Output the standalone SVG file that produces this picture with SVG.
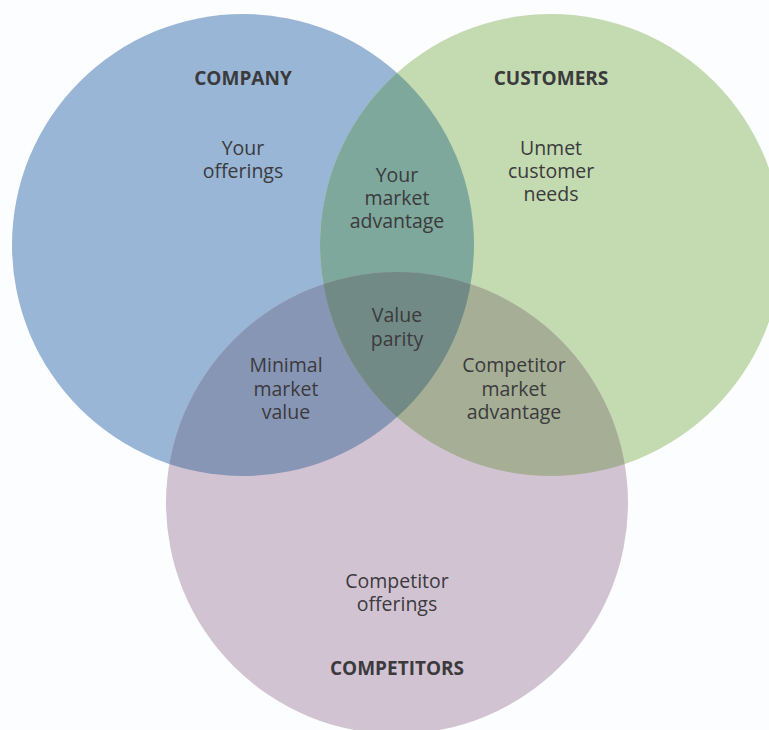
<svg xmlns="http://www.w3.org/2000/svg" width="769" height="730" viewBox="0 0 769 730">
<style>
.t{font-family:"Open Sans","Noto Sans","DejaVu Sans",sans-serif;font-size:19.5px;fill:#3b3a3d;text-anchor:middle}
.b{font-weight:bold;font-size:19px}
</style>
<defs>
<clipPath id="cA"><circle cx="243" cy="245" r="231"/></clipPath>
<clipPath id="cB"><circle cx="551" cy="245" r="231"/></clipPath>
<clipPath id="cC"><circle cx="397" cy="503" r="231"/></clipPath>
</defs>
<rect width="769" height="730" fill="#fcfdfe"/>
<g id="company"><circle cx="243" cy="245" r="231" fill="#99b6d6"/></g>
<g id="customers"><circle cx="551" cy="245" r="231" fill="#c4dab1"/></g>
<g id="competitors"><circle cx="397" cy="503" r="231" fill="#d2c3d2"/></g>
<g id="overlaps">
<g clip-path="url(#cA)"><circle cx="551" cy="245" r="231" fill="#7ea89b"/></g>
<g clip-path="url(#cA)"><circle cx="397" cy="503" r="231" fill="#8896b5"/></g>
<g clip-path="url(#cB)"><circle cx="397" cy="503" r="231" fill="#a6af96"/></g>
<g clip-path="url(#cA)"><g clip-path="url(#cB)"><circle cx="397" cy="503" r="231" fill="#728a85"/></g></g>
</g>
<g id="labels">
<text class="t b" x="243" y="85">COMPANY</text>
<text class="t b" x="551" y="85">CUSTOMERS</text>
<text class="t b" x="397" y="675">COMPETITORS</text>
<text class="t" x="243" y="155">Your</text>
<text class="t" x="243" y="178">offerings</text>
<text class="t" x="551" y="155">Unmet</text>
<text class="t" x="551" y="178">customer</text>
<text class="t" x="551" y="201">needs</text>
<text class="t" x="397" y="182">Your</text>
<text class="t" x="397" y="205">market</text>
<text class="t" x="397" y="228">advantage</text>
<text class="t" x="397" y="322">Value</text>
<text class="t" x="397" y="346">parity</text>
<text class="t" x="286" y="372">Minimal</text>
<text class="t" x="286" y="396">market</text>
<text class="t" x="286" y="419">value</text>
<text class="t" x="514" y="372">Competitor</text>
<text class="t" x="514" y="396">market</text>
<text class="t" x="514" y="419">advantage</text>
<text class="t" x="397" y="588">Competitor</text>
<text class="t" x="397" y="611">offerings</text>
</g>
</svg>
